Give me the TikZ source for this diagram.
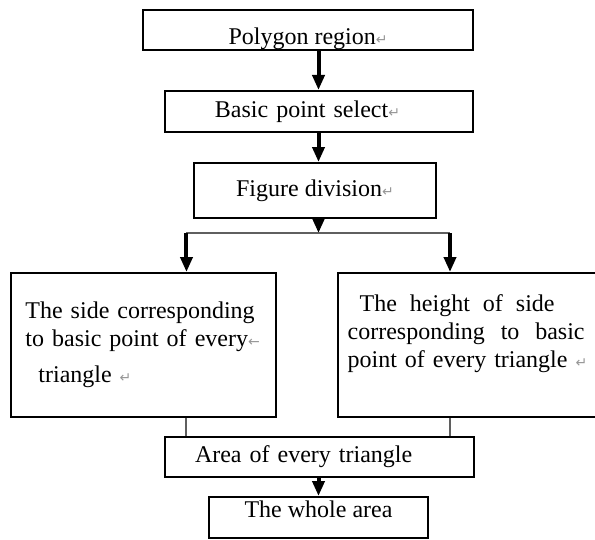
\documentclass[tikz,border=0pt]{standalone}
\usepackage{fontspec}
\setmainfont{Liberation Serif}
\newfontfamily\markfont{DejaVu Sans}
\usepackage{xcolor}
\usepackage{tikz}
\usetikzlibrary{arrows.meta}
\definecolor{linkgray}{RGB}{95,95,95}
\definecolor{markgray}{RGB}{150,150,150}
% paragraph / line-break marks left in the text
\newcommand{\parmark}{{\markfont\fontsize{7}{7}\selectfont\textcolor{markgray}{↵}}}
\newcommand{\lbmark}{{\markfont\fontsize{7}{7}\selectfont\textcolor{markgray}{←}}}
% one justified line of a given width
\newcommand{\jline}[2]{\leavevmode\hbox to #1{#2}}

\begin{document}
\begin{tikzpicture}[
  >=Stealth,
  % Flow box - plain black frame
  bx/.style  = {draw=black, line width=1pt, inner sep=0pt, align=center,
                font=\fontsize{12}{14}\selectfont},
  % Thick flow arrow
  arr/.style = {-{Triangle[length=7.5pt,width=6pt]}, line width=2pt, color=black},
  % Thin branch / join line
  lnk/.style = {line width=1pt, color=linkgray}
]
\useasboundingbox (0,0) rectangle (10.456,-9.472);

% Main column
\node[bx, minimum width=5.799cm, minimum height=0.703cm,
      text height=15pt, text depth=0pt](PR) at (5.413,-0.527){Polygon region\parmark};
\node[bx, minimum width=5.413cm, minimum height=0.720cm,
      text width=3.656cm, inner xsep=0.879cm, align=left](BPS) at (5.606,-1.959){Basic point select\parmark};
\node[bx, minimum width=4.253cm, minimum height=0.967cm](FD) at (5.535,-3.348){Figure division\parmark};

% Two branches
\node[bx, minimum width=4.657cm, minimum height=2.531cm,
      text width=4.15cm, inner xsep=0.25cm, align=left](SD) at (2.522,-6.063)
  {The side corresponding\\to basic point of every\lbmark\\[4pt]\hspace*{6.5pt}triangle \parmark};
\node[bx, minimum width=4.569cm, minimum height=2.531cm,
      text width=4.3cm, inner xsep=0.176cm, align=left](HT) at (8.259,-6.063)
  {\hspace*{6pt}\jline{97.5pt}{The\hfill height\hfill of\hfill side}\\
   \jline{118.5pt}{corresponding\hfill to\hfill basic}\\
   point of every triangle \parmark\\\mbox{}};

% Join and result
\node[bx, minimum width=5.430cm, minimum height=0.703cm,
      text width=4.376cm, inner xsep=0.527cm, align=left](AR) at (5.615,-8.031){Area of every triangle};
\node[bx, minimum width=3.848cm, minimum height=0.720cm,
      text height=8pt, text depth=8pt](WA) at (5.597,-9.094){The whole area};

% Centre axis and branch points
\coordinate(AX) at (5.597, 0);
\coordinate(JC) at (5.597,-4.095);
\coordinate(JL) at (3.277,-4.095);
\coordinate(JR) at (7.908,-4.095);

% Downward flow
\draw[arr](PR.south -| AX)--(BPS.north -| AX);
\draw[arr](BPS.south -| AX)--(FD.north -| AX);
\draw[lnk](JL)--(JR);
\draw[arr](FD.south -| AX)--(JC);
\draw[arr](JL)--(SD.north -| JL);
\draw[arr](JR)--(HT.north -| JR);

% Branches back into one box
\draw[lnk](SD.south -| JL)--(AR.north -| JL);
\draw[lnk](HT.south -| JR)--(AR.north -| JR);
\draw[arr](AR.south -| AX)--(WA.north -| AX);

\end{tikzpicture}
\end{document}
